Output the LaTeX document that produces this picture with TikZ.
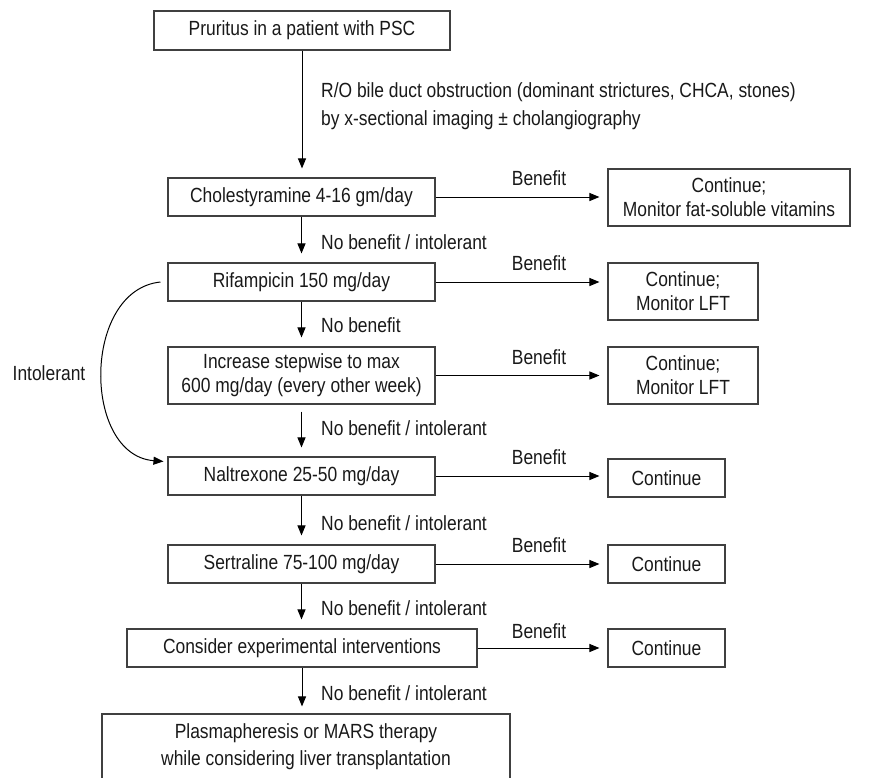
\documentclass[tikz,border=0pt]{standalone}
\usepackage{fontspec}
\setmainfont[FakeStretch=0.85]{Liberation Sans}
\usetikzlibrary{arrows.meta}
\begin{document}
\begin{tikzpicture}[x=1pt,y=-1pt,
  box/.style={draw=black!75, line width=1.1pt, inner sep=0pt, align=center,
    font=\fontsize{20.5}{24}\selectfont, text=black!90},
  arr/.style={draw=black, line width=1pt, -{Triangle[length=10pt,width=8pt]}},
  lbl/.style={inner sep=0pt, font=\fontsize{20.5}{28}\selectfont, text=black!90}]
\useasboundingbox (0,0) rectangle (873,777);

% main column
\node[box, minimum width=296pt, minimum height=39pt] (b1) at (302,30.5) {Pruritus in a patient with PSC};
\node[box, minimum width=267pt, minimum height=38pt] (chol) at (301.5,197) {Cholestyramine 4-16 gm/day};
\node[box, minimum width=267pt, minimum height=38pt] (rif) at (301.5,282) {Rifampicin 150 mg/day};
\node[box, minimum width=267pt, minimum height=57pt] (inc) at (301.5,375.5) {Increase stepwise to max\\600 mg/day (every other week)};
\node[box, minimum width=267pt, minimum height=38pt] (nal) at (301.5,476) {Naltrexone 25-50 mg/day};
\node[box, minimum width=267pt, minimum height=38pt] (ser) at (301.5,564) {Sertraline 75-100 mg/day};
\node[box, minimum width=350pt, minimum height=38pt] (con) at (302,648) {Consider experimental interventions};
\node[box, minimum width=408pt, minimum height=66pt, font=\fontsize{20.5}{27}\selectfont] (pla) at (306,747) {Plasmapheresis or MARS therapy\\while considering liver transplantation};

% right column
\node[box, minimum width=242pt, minimum height=57pt] (c1) at (729,197.5) {Continue;\\Monitor fat-soluble vitamins};
\node[box, minimum width=150pt, minimum height=57pt] (c2) at (683,291.5) {Continue;\\Monitor LFT};
\node[box, minimum width=150pt, minimum height=57pt] (c3) at (683,375.5) {Continue;\\Monitor LFT};
\node[box, minimum width=117pt, minimum height=38pt] (c4) at (666.5,478) {Continue};
\node[box, minimum width=117pt, minimum height=38pt] (c5) at (666.5,564) {Continue};
\node[box, minimum width=117pt, minimum height=38pt] (c6) at (666.5,648) {Continue};

% vertical arrows
\draw[arr, shorten >=9pt] (b1.south) -- (b1.south |- chol.north);
\draw[arr, shorten >=9pt] (chol.south) -- (chol.south |- rif.north);
\draw[arr, shorten >=9pt] (rif.south) -- (rif.south |- inc.north);
\draw[arr, shorten <=7pt, shorten >=9pt] (inc.south) -- (inc.south |- nal.north);
\draw[arr, shorten >=9pt] (nal.south) -- (nal.south |- ser.north);
\draw[arr, shorten >=9pt] (ser.south) -- (ser.south |- con.north);
\draw[arr, shorten >=7pt] (con.south) -- (con.south |- pla.north);

% horizontal arrows
\draw[arr, shorten >=8pt] (chol.east) -- (chol.east -| c1.west);
\draw[arr, shorten >=8pt] (rif.east) -- (rif.east -| c2.west);
\draw[arr, shorten >=8pt] (inc.east) -- (inc.east -| c3.west);
\draw[arr, shorten >=8pt] (nal.east) -- (nal.east -| c4.west);
\draw[arr, shorten >=8pt] (ser.east) -- (ser.east -| c5.west);
\draw[arr, shorten >=8pt] (con.east) -- (con.east -| c6.west);

% curved intolerant arrow
\coordinate (cs) at ([xshift=-7pt]rif.west);
\coordinate (ce) at ([xshift=-4pt,yshift=-5pt]nal.north west);
\draw[arr] (cs) .. controls (82,290) and (82,455) .. (ce);
\node[lbl] (intol) at (49,373) {Intolerant};

% labels
\node[lbl, anchor=west, align=left] (ro) at (321,106) {R/O bile duct obstruction (dominant strictures, CHCA, stones)\\by x-sectional imaging ± cholangiography};
\node[lbl, anchor=west] (n1) at (321,242) {No benefit / intolerant};
\node[lbl, anchor=west] (n2) at (321,325) {No benefit};
\node[lbl, anchor=west] (n3) at (321,428) {No benefit / intolerant};
\node[lbl, anchor=west] (n4) at (321,523) {No benefit / intolerant};
\node[lbl, anchor=west] (n5) at (321,608) {No benefit / intolerant};
\node[lbl, anchor=west] (n6) at (321,693) {No benefit / intolerant};

\node[lbl] (bf1) at (539,178) {Benefit};
\node[lbl] (bf2) at (539,263) {Benefit};
\node[lbl] (bf3) at (539,357) {Benefit};
\node[lbl] (bf4) at (539,457) {Benefit};
\node[lbl] (bf5) at (539,545) {Benefit};
\node[lbl] (bf6) at (539,631) {Benefit};
\end{tikzpicture}
\end{document}
